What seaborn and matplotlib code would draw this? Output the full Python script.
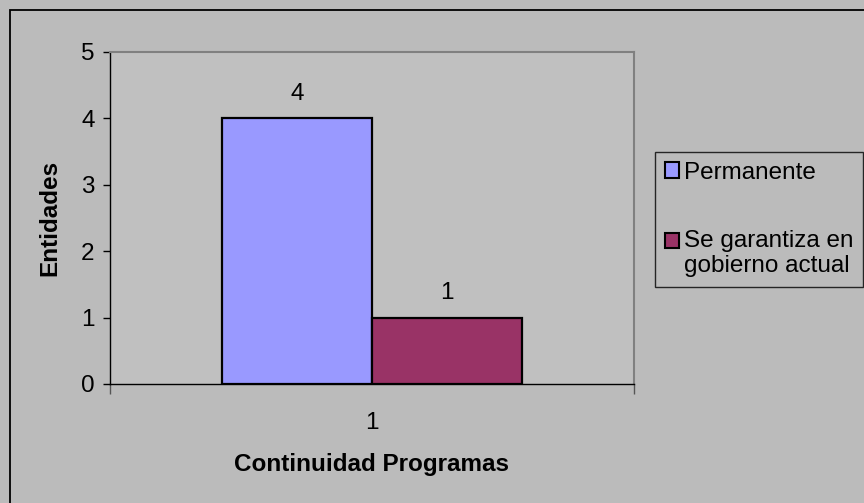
import matplotlib
matplotlib.use("Agg")
import matplotlib.pyplot as plt
import seaborn as sns
import pandas as pd
from matplotlib.patches import Rectangle
from matplotlib.ticker import FixedLocator

categories = ["1"]
series_names = ["Permanente", "Se garantiza en\ngobierno actual"]
permanente = [4]
garantiza = [1]
colors = ["#9999FF", "#993366"]

df = pd.DataFrame({
    "cat": categories * 2,
    "serie": [series_names[0]] * len(categories) + [series_names[1]] * len(categories),
    "val": permanente + garantiza,
})

sns.set_theme(style="white")
plt.rcParams["font.family"] = ["Liberation Sans", "DejaVu Sans"]
plt.rcParams["text.color"] = "black"
plt.rcParams["axes.labelcolor"] = "black"
plt.rcParams["xtick.color"] = "black"
plt.rcParams["ytick.color"] = "black"

FS = 17.5

fig = plt.figure(figsize=(8.64, 5.03), dpi=100)
fig.patch.set_facecolor("#BBBBBB")
border = Rectangle((9.5 / 864, -0.1), 1.2, (503 - 10.5) / 503 + 0.1, transform=fig.transFigure,
                   facecolor="none", edgecolor="black", linewidth=1.3)
fig.patches.append(border)

ax = fig.add_axes([110 / 864, (503 - 384) / 503, 524 / 864, 332 / 503])
ax.set_facecolor("#C0C0C0")

sns.barplot(data=df, x="cat", y="val", hue="serie", palette=colors, width=0.573,
            edgecolor="black", linewidth=1.6, ax=ax, legend=True, saturation=1)

for cont in ax.containers:
    ax.bar_label(cont, padding=10, fontsize=FS, color="black")

ax.set_ylim(0, 5)
ax.set_xlim(-0.5, 0.5)
ax.set_yticks([0, 1, 2, 3, 4, 5])
ax.tick_params(axis="y", direction="out", length=5, width=1, color="black", labelsize=FS,
               left=True, pad=6)
ax.xaxis.set_major_locator(FixedLocator([-0.5, 0.5]))
ax.set_xticklabels(["", ""])
ax.xaxis.set_minor_locator(FixedLocator([0]))
ax.set_xticklabels(categories, minor=True)
ax.tick_params(axis="x", which="major", direction="out", length=7, width=1, color="#555555", bottom=True)
ax.tick_params(axis="x", which="minor", length=0, labelsize=FS, pad=20)

for s in ["left", "bottom"]:
    ax.spines[s].set_color("black")
    ax.spines[s].set_linewidth(1.0)
for s in ["top", "right"]:
    ax.spines[s].set_color("#808080")
    ax.spines[s].set_linewidth(1.5)

ax.set_xlabel("Continuidad Programas", fontsize=FS, fontweight="bold", labelpad=14)
ax.set_ylabel("Entidades", fontsize=FS, fontweight="bold", labelpad=14)

handles, labels = ax.get_legend_handles_labels()
ax.get_legend().remove()
leg = fig.legend(handles, labels, loc="upper left", bbox_to_anchor=(655 / 864, 1 - 152 / 503),
                 frameon=True, fancybox=False, edgecolor="black", facecolor="#BBBBBB",
                 fontsize=FS, handlelength=0.6, handleheight=0.6, handletextpad=0.2,
                 labelspacing=1.9, borderpad=0.4, borderaxespad=0)
leg.get_frame().set_linewidth(1.0)
for h in leg.legend_handles:
    h.set_edgecolor("black")
    h.set_linewidth(1.5)
# align the second marker with the first text line
h2 = leg.legend_handles[1]
h2.set_y(h2.get_y() + 9.5)

fig.savefig("out.png", dpi=100, facecolor=fig.get_facecolor())
